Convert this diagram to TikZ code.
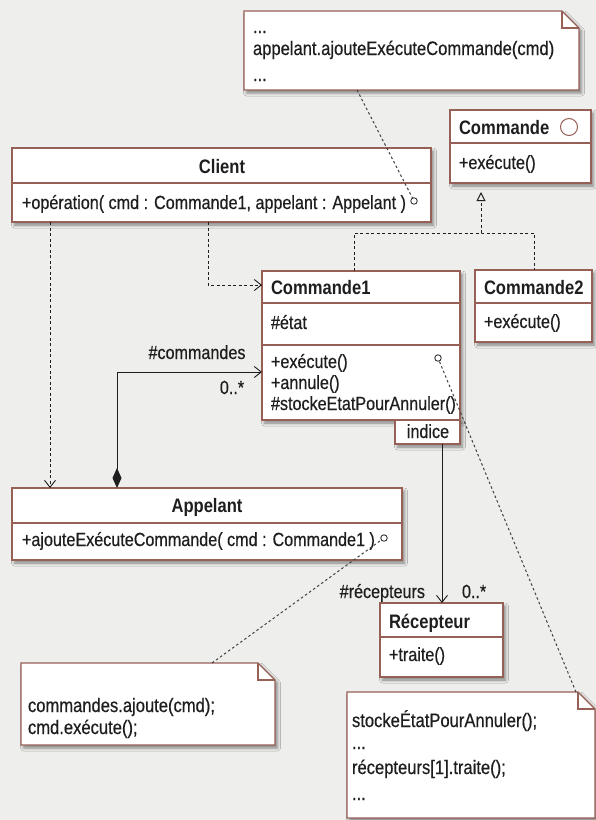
\documentclass[tikz,border=0pt]{standalone}
\usepackage{fontspec}
\setmainfont{Liberation Sans}[FakeStretch=0.85, UprightFeatures={FakeBold=0.5}]
\usetikzlibrary{arrows.meta,shadows.blur,calc}

\definecolor{paper}{RGB}{238,238,236}
\definecolor{frame}{RGB}{150,96,86}
\definecolor{ink}{RGB}{30,30,30}

% class box: name, left, top, right, bottom (in px, y downwards)
\newcommand\umlclass[5]{%
  \node[classframe, minimum width={#4pt-#2pt}, minimum height={#5pt-#3pt}] (#1) at (#2,#3) {};}
% horizontal compartment line inside a box
\newcommand\compartment[2]{%
  \draw[divider] (#1.west |- 0,#2) -- (#1.east |- 0,#2);}
% note with a folded corner: name, left, top, right, bottom
\newcommand\umlnote[5]{%
  \node[anchor=north west, minimum width={#4pt-#2pt}, minimum height={#5pt-#3pt}] (#1) at (#2,#3) {};
  \draw[noteframe] (#1.north west) -- ([xshift=-17pt]#1.north east)
     -- ([yshift=-17pt]#1.north east) -- (#1.south east) -- (#1.south west) -- cycle;
  \draw[divider] ([xshift=-17pt]#1.north east) |- ([yshift=-17pt]#1.north east);}

\begin{document}
\begin{tikzpicture}[x=1pt,y=-1pt,
  every node/.style={font=\fontsize{19}{21}\selectfont, inner sep=0pt, outer sep=0pt, text=ink},
  classframe/.style={draw=frame, line width=1.1pt, fill=white, anchor=north west,
    blur shadow={shadow xshift=2.5pt, shadow yshift=-3pt, shadow blur radius=3pt, shadow opacity=45}},
  noteframe/.style={draw=frame, line width=1.1pt, fill=white,
    blur shadow={shadow xshift=2.5pt, shadow yshift=-3pt, shadow blur radius=3pt, shadow opacity=45}},
  divider/.style={draw=frame, line width=1.1pt},
  title/.style={font=\fontsize{19.5}{21}\selectfont\bfseries, anchor=base},
  member/.style={anchor=base west},
  notetext/.style={anchor=base west, font=\fontsize{19.5}{21}\selectfont},
  ring/.style={circle, draw=ink, line width=0.8pt, minimum size=6.5pt},
  depend/.style={draw=ink, line width=0.9pt, dash pattern=on 3pt off 2.5pt,
    -{Straight Barb[length=7pt,width=11pt]}},
  realize/.style={draw=ink, line width=0.9pt, dash pattern=on 3pt off 2.5pt},
  assoc/.style={draw=ink, line width=0.9pt, -{Straight Barb[length=7pt,width=11pt]}},
  notelink/.style={draw=ink!85, line width=1pt, dash pattern=on 2.5pt off 2.5pt},
]
\useasboundingbox (0,0) rectangle (596,820);
\fill[paper] (0,0) rectangle (596,820);

% ---- notes ----
\umlnote{noteA}{244}{11}{579}{90}
\node[notetext] (noteAa) at (253,33) {...};
\node[notetext] (noteAb) at (253,55) {appelant.ajouteExécuteCommande(cmd)};
\node[notetext] (noteAc) at (253,81) {...};

\umlnote{noteB}{21}{663}{275}{745}
\node[notetext] (noteBa) at (28,712) {commandes.ajoute(cmd);};
\node[notetext] (noteBb) at (28,734) {cmd.exécute();};

\umlnote{noteC}{347}{692}{595}{818}
\node[notetext] (noteCa) at (352,727) {stockeÉtatPourAnnuler();};
\node[notetext] (noteCb) at (352,749) {...};
\node[notetext] (noteCc) at (352,774) {récepteurs[1].traite();};
\node[notetext] (noteCd) at (352,800) {...};

% ---- Commande (interface) ----
\umlclass{commande}{450}{110}{591}{183}
\compartment{commande}{143}
\node[title, anchor=base west] (commandeT) at (459,134) {Commande};
\node[circle, draw=frame, line width=1pt, minimum size=17pt] (iface) at (569,127) {};
\node[member] (commandeM) at (459,169) {+exécute()};

% ---- Client ----
\umlclass{client}{12}{148}{431}{222}
\compartment{client}{183}
\node[title] (clientT) at (222,173) {Client};
\node[member] (clientM) at (22,209) {+opération( cmd : Commande1, appelant : Appelant )};
\node[ring] (ringClient) at (414,201) {};

% ---- Commande1 ----
\umlclass{cmdA}{262}{271}{460}{420}
\compartment{cmdA}{303}
\compartment{cmdA}{345}
\node[title, anchor=base west] (cmdAT) at (271,294) {Commande1};
\node[member] (cmdAa) at (271,329) {\#état};
\node[member] (cmdAm1) at (271,368) {+exécute()};
\node[member] (cmdAm2) at (271,389) {+annule()};
\node[member] (cmdAm3) at (271,410) {\#stockeEtatPourAnnuler()};
\node[ring] (ringCmd) at (438,358) {};
\umlclass{indice}{395}{420}{460}{444}
\node[anchor=base] (indiceT) at (428,438) {indice};

% ---- Commande2 ----
\umlclass{cmdB}{475}{270}{592}{342}
\compartment{cmdB}{303}
\node[title, anchor=base west] (cmdBT) at (484,294) {Commande2};
\node[member] (cmdBm) at (484,328) {+exécute()};

% ---- Appelant ----
\umlclass{appelant}{12}{488}{402}{560}
\compartment{appelant}{523}
\node[title] (appelantT) at (207,512) {Appelant};
\node[member] (appelantM) at (22,546) {+ajouteExécuteCommande( cmd : Commande1 )};
\node[ring] (ringApp) at (384,538) {};

% ---- Récepteur ----
\umlclass{recepteur}{380}{603}{503}{677}
\compartment{recepteur}{637}
\node[title, anchor=base west] (recepteurT) at (389,628) {Récepteur};
\node[member] (recepteurM) at (389,661) {+traite()};

% ---- connectors ----
\draw[depend] (client.south -| 50,0) -- (appelant.north -| 50,0);
\draw[depend] (client.south -| 208,0) |- (cmdA.west |- 0,285);

\coordinate (fork) at (481,233);
\draw[realize] (cmdA.north -| 354,0) |- (fork) -| (cmdB.north -| 534,0);
\draw[realize, -{Triangle[open, length=9pt, width=9pt, line width=1pt]}, shorten >=9pt]
  (fork) -- (commande.south -| fork);

\draw[assoc, {Diamond[length=20pt, width=9pt]}-{Straight Barb[length=7pt,width=11pt]}]
  (appelant.north -| 117,0) |- (cmdA.west |- 0,372);
\node[anchor=base] (rolecmds) at (197,359) {\#commandes};
\node[anchor=base] (multcmds) at (232,394) {0..*};

\draw[assoc] (indice.south -| 442,0) -- (recepteur.north -| 442,0);
\node[anchor=base east] (rolerec) at (425,598) {\#récepteurs};
\node[anchor=base west] (multrec) at (462,598) {0..*};

\draw[notelink] (noteA.south -| 357,0) -- (ringClient);
\draw[notelink] (noteB.north -| 212,0) -- (ringApp);
\draw[notelink] ([xshift=-19pt]noteC.north east) -- (ringCmd);
\end{tikzpicture}
\end{document}
